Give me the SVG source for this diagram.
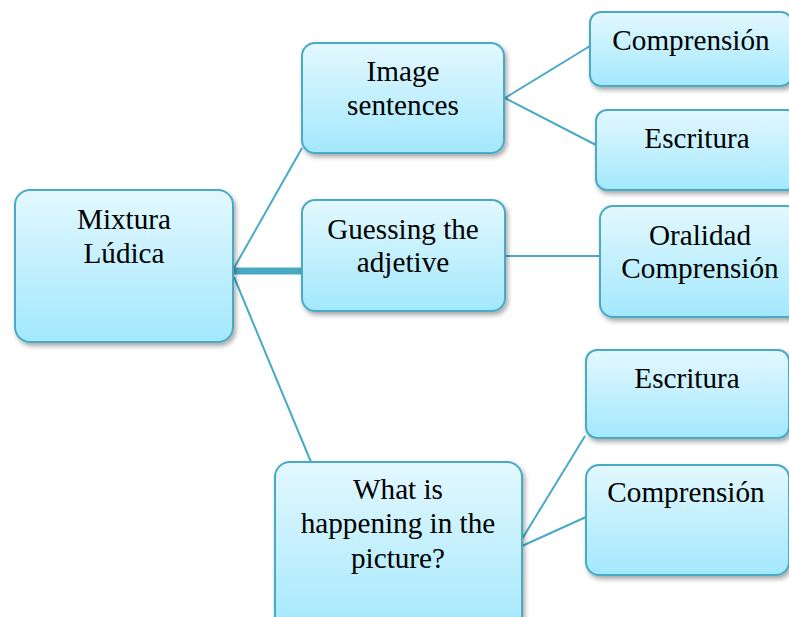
<svg xmlns="http://www.w3.org/2000/svg" width="789" height="617" viewBox="0 0 789 617">
  <defs>
    <linearGradient id="boxFill" x1="0" y1="0" x2="0" y2="1">
      <stop offset="0" stop-color="#e3f8fe"/>
      <stop offset="1" stop-color="#a3e8fd"/>
    </linearGradient>
    <filter id="shadow" x="-10%" y="-10%" width="125%" height="130%">
      <feGaussianBlur in="SourceAlpha" stdDeviation="2.5"/>
      <feOffset dx="1.5" dy="3" result="b"/>
      <feComponentTransfer><feFuncA type="linear" slope="0.35"/></feComponentTransfer>
      <feMerge><feMergeNode/><feMergeNode in="SourceGraphic"/></feMerge>
    </filter>
  </defs>
  <style>
    .box { fill: url(#boxFill); stroke: #4aaac6; stroke-width: 2; filter: url(#shadow); }
    .lbl { font-family: "Liberation Serif", "Times New Roman", serif; font-size: 29.2px; fill: #000; text-anchor: middle; }
    .link { stroke: #4aaac6; stroke-width: 2; fill: none; }
    .bar { stroke: #49a9c5; stroke-width: 7; fill: none; }
  </style>
  <rect width="789" height="617" fill="#ffffff"/>

  <g id="connectors">
    <line class="link" x1="234" y1="268" x2="302" y2="148"/>
    <line class="bar" x1="233" y1="271" x2="302" y2="271"/>
    <line class="link" x1="234" y1="277" x2="311" y2="462"/>
    <line class="link" x1="505" y1="98" x2="590" y2="46"/>
    <line class="link" x1="505" y1="98" x2="596" y2="145"/>
    <line class="link" x1="505" y1="256" x2="600" y2="256"/>
    <line class="link" x1="522" y1="539" x2="585" y2="436"/>
    <line class="link" x1="522" y1="546" x2="586" y2="517"/>
  </g>

  <g id="root">
    <rect class="box" x="15" y="190" width="218" height="152" rx="15"/>
    <text class="lbl" x="124" y="229">Mixtura</text>
    <text class="lbl" x="124" y="263">Lúdica</text>
  </g>

  <g id="image-sentences">
    <rect class="box" x="302" y="43" width="202" height="110" rx="13"/>
    <text class="lbl" x="403" y="81">Image</text>
    <text class="lbl" x="403" y="115">sentences</text>
  </g>

  <g id="guessing">
    <rect class="box" x="302" y="200" width="203" height="111" rx="13"/>
    <text class="lbl" x="403" y="239">Guessing the</text>
    <text class="lbl" x="403" y="272">adjetive</text>
  </g>

  <g id="what-is-happening">
    <rect class="box" x="275" y="462" width="247" height="175" rx="15"/>
    <text class="lbl" x="398" y="499">What is</text>
    <text class="lbl" x="398" y="533">happening in the</text>
    <text class="lbl" x="398" y="568">picture?</text>
  </g>

  <g id="comprension-1">
    <rect class="box" x="590" y="12" width="202" height="74" rx="11"/>
    <text class="lbl" x="691" y="50">Comprensión</text>
  </g>

  <g id="escritura-1">
    <rect class="box" x="596" y="110" width="202" height="80" rx="11"/>
    <text class="lbl" x="697" y="148">Escritura</text>
  </g>

  <g id="oralidad">
    <rect class="box" x="600" y="206" width="200" height="111" rx="13"/>
    <text class="lbl" x="700" y="245">Oralidad</text>
    <text class="lbl" x="700" y="278">Comprensión</text>
  </g>

  <g id="escritura-2">
    <rect class="box" x="586" y="350" width="203" height="88" rx="11"/>
    <text class="lbl" x="687" y="388">Escritura</text>
  </g>

  <g id="comprension-2">
    <rect class="box" x="586" y="465" width="203" height="110" rx="13"/>
    <text class="lbl" x="686" y="502">Comprensión</text>
  </g>
</svg>
